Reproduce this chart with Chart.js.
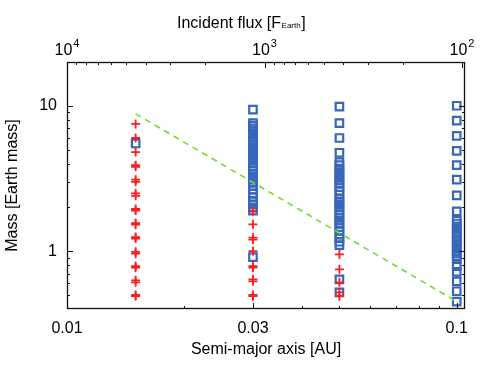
<!DOCTYPE html>
<html>
<head>
<meta charset="utf-8">
<script src="https://cdn.jsdelivr.net/npm/chart.js@4.4.1/dist/chart.umd.min.js"></script>
<style>
  body { margin: 0; background: #fff; }
  #wrap { width: 483px; height: 365px; }
</style>
</head>
<body>
<div id="wrap"><canvas id="myChart"></canvas></div>
<script>
// semi-major axis of each simulated column [AU]
var semiMajorAxis = [0.015, 0.03, 0.05, 0.1];

// red crosses, masses [Earth mass] per column
var crossMasses = [
  [7.5, 6.0, 4.8, 3.9, 3.8, 3.1, 3.0, 2.5, 2.4, 1.95, 1.9, 1.56, 1.52, 1.25, 1.22, 0.99, 0.96, 0.79, 0.77, 0.63, 0.61, 0.5, 0.49],
  [1.88, 1.53, 1.24, 1.2, 1.0, 0.79, 0.77, 0.64, 0.62, 0.5, 0.49],
  [0.95, 0.75, 0.61, 0.52, 0.49],
  []
];

// blue squares, masses [Earth mass] per column
var squareMasses = [
  [5.5],
  [9.4, 7.6, 7.3, 7.0, 6.7, 6.4, 6.1, 5.85, 5.6, 5.35, 5.1, 4.85, 4.6, 4.4, 4.2, 4.0, 3.8, 3.6, 3.4, 3.25, 3.1, 2.95, 2.8, 2.65, 2.5, 2.35, 2.2, 2.1, 2.0, 1.9, 0.91],
  [9.85, 7.6, 6.0, 4.75, 4.1, 3.9, 3.7, 3.5, 3.35, 3.2, 3.05, 2.9, 2.75, 2.6, 2.45, 2.3, 2.2, 2.1, 2.0, 1.9, 1.8, 1.7, 1.62, 1.54, 1.46, 1.38, 1.3, 1.23, 1.16, 1.1, 0.64, 0.52],
  [10.0, 7.9, 6.2, 4.9, 3.9, 3.1, 2.42, 1.88, 1.62, 1.55, 1.48, 1.42, 1.36, 1.3, 1.25, 1.2, 1.15, 1.1, 1.05, 1.0, 0.96, 0.92, 0.88, 0.79, 0.72, 0.62, 0.53, 0.45]
];

// dashed green boundary
var lineAxis = [0.015, 0.1];
var lineMass = [8.8, 0.45];

// axis ticks
var axisTicks = [0.01, 0.02, 0.03, 0.04, 0.05, 0.06, 0.07, 0.08, 0.09, 0.1];
var axisLabels = [0.01, 0.03, 0.1];
var massTicks = [0.5, 0.6, 0.7, 0.8, 0.9, 1, 2, 3, 4, 5, 6, 7, 8, 9, 10];
var massLabels = [1, 10];
var fluxTicks = [9000, 8000, 7000, 6000, 5000, 4000, 3000, 2000, 900, 800, 700, 600, 500, 400, 300, 200];
var fluxMajor = [10000, 1000, 100];
var fluxExp = ["4", "3", "2"];

var FONT = "'Liberation Sans', Arial, Helvetica, sans-serif";

function points(masses){
  var out = [];
  semiMajorAxis.forEach(function(a, i){
    masses[i].forEach(function(m){ out.push({x: a, y: m}); });
  });
  return out;
}

var frameTicks = {
  id: "frameTicks",
  afterDatasetsDraw: function(chart){
    var ctx = chart.ctx, ca = chart.chartArea, s = chart.scales;
    ctx.save();
    ctx.strokeStyle = "#111";
    ctx.lineWidth = 1;
    ctx.beginPath();
    function vt(px, len){
      px = Math.round(px) + 0.5;
      ctx.moveTo(px, ca.bottom); ctx.lineTo(px, ca.bottom - len);
    }
    function ht(py, len){
      py = Math.round(py) + 0.5;
      ctx.moveTo(ca.left, py); ctx.lineTo(ca.left + len, py);
      ctx.moveTo(ca.right, py); ctx.lineTo(ca.right - len, py);
    }
    function tt(px, len){
      px = Math.round(px) + 0.5;
      ctx.moveTo(px, ca.top); ctx.lineTo(px, ca.top + len);
    }
    axisTicks.forEach(function(v){ vt(s.x.getPixelForValue(v), axisLabels.indexOf(v) >= 0 ? 6 : 3); });
    massTicks.forEach(function(v){ ht(s.y.getPixelForValue(v), massLabels.indexOf(v) >= 0 ? 6 : 3); });
    fluxTicks.forEach(function(v){ tt(s.x2.getPixelForValue(v), 3); });
    fluxMajor.forEach(function(v){ tt(s.x2.getPixelForValue(v), 6); });
    ctx.stroke();
    ctx.lineWidth = 1.3;
    ctx.strokeRect(ca.left + 0.5, ca.top + 0.5, ca.right - ca.left - 1, ca.bottom - ca.top - 1);

    // top axis labels 10^n
    ctx.fillStyle = "#000";
    ctx.textBaseline = "alphabetic";
    ctx.textAlign = "left";
    fluxMajor.forEach(function(v, i){
      var px = s.x2.getPixelForValue(v);
      ctx.font = "16px " + FONT;
      var w1 = ctx.measureText("10").width;
      ctx.font = "11px " + FONT;
      var w2 = ctx.measureText(fluxExp[i]).width;
      var x0 = px - (w1 + w2 + 1) / 2;
      ctx.font = "16px " + FONT;
      ctx.fillText("10", x0, 55);
      ctx.font = "11px " + FONT;
      ctx.fillText(fluxExp[i], x0 + w1 + 1, 47);
    });

    // top axis title with small "Earth"
    var tx = 177;
    ctx.font = "16px " + FONT;
    ctx.fillText("Incident flux [F", tx, 28);
    tx += ctx.measureText("Incident flux [F").width;
    ctx.font = "8px " + FONT;
    ctx.fillText("Earth", tx + 0.5, 28);
    tx += ctx.measureText("Earth").width + 1;
    ctx.font = "16px " + FONT;
    ctx.fillText("]", tx, 28);
    ctx.restore();
  }
};

var ctx = document.getElementById("myChart").getContext("2d");
var myChart = new Chart(ctx, {
  type: "scatter",
  data: {
    datasets: [{
      label: "boundary",
      type: "line",
      data: lineAxis.map(function(a, i){ return {x: a, y: lineMass[i]}; }),
      borderColor: "#72dc2a",
      borderWidth: 1.6,
      borderDash: [6, 5],
      pointRadius: 0,
      fill: false
    }, {
      label: "crosses",
      data: points(crossMasses),
      pointStyle: "cross",
      pointRadius: 4.5,
      borderColor: "#ff1c1c",
      borderWidth: 1.8,
      showLine: false
    }, {
      label: "squares",
      data: points(squareMasses),
      pointStyle: "rect",
      pointRadius: 5.3,
      borderColor: "#3766bb",
      backgroundColor: "rgba(0,0,0,0)",
      borderWidth: 2.2,
      showLine: false
    }]
  },
  options: {
    responsive: true,
    maintainAspectRatio: false,
    animation: false,
    layout: { padding: { left: 0, right: 18, top: 0, bottom: 0 } },
    plugins: { legend: { display: false }, tooltip: { enabled: false } },
    scales: {
      x: {
        type: "logarithmic", position: "bottom", min: 0.01, max: 0.105,
        afterFit: function(sc){ sc.height = 56; },
        afterBuildTicks: function(sc){ sc.ticks = axisTicks.map(function(v){ return {value: v}; }); },
        grid: { display: false, drawTicks: false },
        border: { display: false },
        ticks: {
          autoSkip: false, maxRotation: 0, padding: 10, color: "#000",
          font: { family: FONT, size: 16 },
          callback: function(v){ return axisLabels.indexOf(v) >= 0 ? String(v) : ""; }
        },
        title: { display: true, text: "Semi-major axis [AU]", color: "#000",
          font: { family: FONT, size: 16 }, padding: { top: 0, bottom: 6 } }
      },
      x2: {
        type: "logarithmic", position: "top", reverse: true, min: 96.6, max: 10000,
        afterFit: function(sc){ sc.height = 62; },
        grid: { display: false, drawTicks: false },
        border: { display: false },
        ticks: { display: false }
      },
      y: {
        type: "logarithmic", position: "left", min: 0.4, max: 20,
        afterFit: function(sc){ sc.width = 67; },
        afterBuildTicks: function(sc){ sc.ticks = massTicks.map(function(v){ return {value: v}; }); },
        grid: { display: false, drawTicks: false },
        border: { display: false },
        ticks: {
          autoSkip: false, padding: 10, color: "#000",
          font: { family: FONT, size: 16 },
          callback: function(v){ return massLabels.indexOf(v) >= 0 ? String(v) : ""; }
        },
        title: { display: true, text: "Mass [Earth mass]", color: "#000",
          font: { family: FONT, size: 16 }, padding: { top: 3, bottom: 0 } }
      }
    }
  },
  plugins: [frameTicks]
});
</script>
</body>
</html>
